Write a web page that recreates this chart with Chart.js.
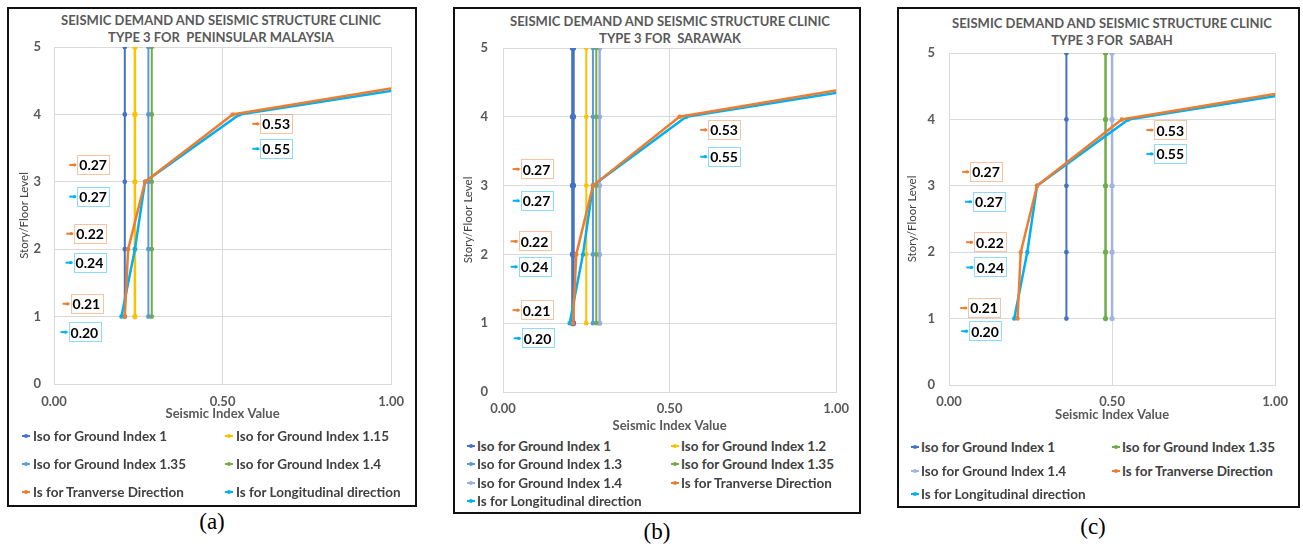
<!DOCTYPE html>
<html>
<head>
<meta charset="utf-8">
<script src="https://cdn.jsdelivr.net/npm/chart.js@4.4.0/dist/chart.umd.min.js"></script>
<style>
body{margin:0;width:1303px;height:548px;background:#fff;position:relative;overflow:hidden;font-family:Lato,sans-serif}
.panel{position:absolute;border:2px solid #111;box-sizing:border-box}
canvas{position:absolute}
.ttl{position:absolute;width:400px;text-align:center;font-weight:bold;color:#595959;font-size:13px;line-height:17px;white-space:pre}
.leg{position:absolute;font-weight:bold;color:#404040;font-size:13.5px;white-space:nowrap;line-height:14px}
.leg i{position:absolute;top:6px;width:8px;height:2px}
.leg b{position:absolute;top:5px;width:4px;height:4px;border-radius:2px}
.cap{position:absolute;font-family:'Liberation Serif',serif;font-size:23px;width:60px;text-align:center}
</style>
</head>
<body>
<div class="panel" style="left:7px;top:7px;width:410px;height:500px"></div>
<div class="panel" style="left:453px;top:7px;width:408px;height:507px"></div>
<div class="panel" style="left:897px;top:7px;width:403px;height:501px"></div>

<div class="ttl" style="left:21px;top:12px">SEISMIC DEMAND AND SEISMIC STRUCTURE CLINIC
TYPE 3 FOR  PENINSULAR MALAYSIA</div>
<div class="ttl" style="left:470px;top:13px">SEISMIC DEMAND AND SEISMIC STRUCTURE CLINIC
TYPE 3 FOR  SARAWAK</div>
<div class="ttl" style="left:912px;top:15px">SEISMIC DEMAND AND SEISMIC STRUCTURE CLINIC
TYPE 3 FOR  SABAH</div>

<canvas id="chartA" width="405" height="420" style="left:9px;top:9px"></canvas>
<canvas id="chartB" width="403" height="428" style="left:455px;top:9px"></canvas>
<canvas id="chartC" width="398" height="425" style="left:899px;top:9px"></canvas>

<div id="legA"></div><div id="legB"></div><div id="legC"></div>

<div class="cap" style="left:182px;top:509px">(a)</div>
<div class="cap" style="left:627px;top:519px">(b)</div>
<div class="cap" style="left:1063px;top:514px">(c)</div>

<script>
// story levels and seismic index values
const levels = [1, 2, 3, 4, 5];
const isTransverse = [0.21, 0.22, 0.27, 0.53, 1.75];
const isLongitudinal = [0.20, 0.24, 0.27, 0.55, 1.84];
const xTicks = [0, 0.5, 1];
const yTicks = [0, 1, 2, 3, 4, 5];

// Iso (seismic demand) per region
const isoNamesA = ['Iso for Ground Index 1', 'Iso for Ground Index 1.15', 'Iso for Ground Index 1.35', 'Iso for Ground Index 1.4'];
const isoValuesA = [0.21, 0.24, 0.28, 0.29];
const isoNamesB = ['Iso for Ground Index 1', 'Iso for Ground Index 1.2', 'Iso for Ground Index 1.3', 'Iso for Ground Index 1.35', 'Iso for Ground Index 1.4'];
const isoValuesB = [0.21, 0.25, 0.27, 0.28, 0.29];
const isoNamesC = ['Iso for Ground Index 1', 'Iso for Ground Index 1.35', 'Iso for Ground Index 1.4'];
const isoValuesC = [0.36, 0.48, 0.50];

const ORANGE = '#ED7D31', CYAN = '#00B0F0';
Chart.defaults.font.family = 'Lato';

// data label plugin: value of each Is point, shown at a dragged position
const isLabels = {
    id: 'isLabels',
    afterDatasetsDraw(chart, args, opts) {
        const ctx = chart.ctx, x = chart.scales.x, y = chart.scales.y;
        opts.items.forEach(item => {
            const ds = chart.data.datasets[item.ds];
            item.pos.forEach((p, i) => {
                const px = x.getPixelForValue(p[0]), py = y.getPixelForValue(p[1]);
                const txt = ds.data[i].x.toFixed(2);
                ctx.save();
                ctx.font = 'bold 14px Lato';
                const w = ctx.measureText(txt).width;
                ctx.globalAlpha = 0.45;
                ctx.strokeStyle = ds.borderColor;
                ctx.lineWidth = 1;
                ctx.strokeRect(Math.round(px - 2) + 0.5, Math.round(py - 10) + 0.5, Math.round(w + 4), 19);
                ctx.globalAlpha = 1;
                ctx.lineWidth = 2;
                ctx.beginPath();
                ctx.moveTo(px - 10, py);
                ctx.lineTo(px - 3, py);
                ctx.stroke();
                ctx.fillStyle = ds.borderColor;
                ctx.beginPath();
                ctx.arc(px - 5, py, 1.6, 0, Math.PI * 2);
                ctx.fill();
                ctx.fillStyle = '#000';
                ctx.textBaseline = 'middle';
                ctx.fillText(txt, px, py + 1);
                ctx.restore();
            });
        });
    }
};

function makeChart(id, geo, isoNames, isoValues, isoColors, isoWidths, labelPos) {
    const datasets = isoNames.map((n, i) => ({
        label: n,
        data: levels.map(l => ({x: isoValues[i], y: l})),
        borderColor: isoColors[i],
        backgroundColor: isoColors[i],
        borderWidth: isoWidths[i],
        pointRadius: 1.4,
        order: 1
    }));
    datasets.push({
        label: 'Is for Tranverse Direction',
        data: levels.map((l, i) => ({x: isTransverse[i], y: l})),
        borderColor: ORANGE, backgroundColor: ORANGE,
        borderWidth: 2.5, pointRadius: 1, order: 0
    });
    datasets.push({
        label: 'Is for Longitudinal direction',
        data: levels.map((l, i) => ({x: isLongitudinal[i], y: l})),
        borderColor: CYAN, backgroundColor: CYAN,
        borderWidth: 2.5, pointRadius: 1, order: 0
    });
    const n = datasets.length;
    const c = geo.canvas, p = geo.plot;
    return new Chart(document.getElementById(id), {
        type: 'scatter',
        data: {datasets: datasets},
        options: {
            responsive: false,
            animation: false,
            showLine: true,
            layout: {padding: {
                left: p.l - c.l - geo.yW,
                top: p.t - c.t,
                right: c.l + c.w - p.r,
                bottom: c.t + c.h - p.b - geo.xH
            }},
            scales: {
                x: {
                    min: 0, max: 1,
                    afterBuildTicks: s => { s.ticks = xTicks.map(v => ({value: v})); },
                    afterFit: s => { s.height = geo.xH; },
                    grid: {color: '#D9D9D9', drawTicks: false},
                    border: {color: '#D9D9D9'},
                    ticks: {padding: geo.xPad, color: '#595959', font: {size: 13, weight: 'bold'},
                        callback: v => v.toFixed(2), maxRotation: 0},
                    title: {display: true, text: 'Seismic Index Value', color: '#595959',
                        font: {size: 13, weight: 'bold'}, padding: 0}
                },
                y: {
                    min: 0, max: 5,
                    afterBuildTicks: s => { s.ticks = yTicks.map(v => ({value: v})); },
                    afterFit: s => { s.width = geo.yW; },
                    grid: {color: '#D9D9D9', drawTicks: false},
                    border: {color: '#D9D9D9'},
                    ticks: {padding: geo.yPad, color: '#595959', font: {size: 13, weight: 'bold'}},
                    title: {display: true, text: 'Story/Floor Level', color: '#404040',
                        font: {size: 11.5}, padding: 0}
                }
            },
            plugins: {
                legend: {display: false},
                tooltip: {enabled: false},
                isLabels: {items: [{ds: n - 2, pos: labelPos.tr}, {ds: n - 1, pos: labelPos.lo}]}
            }
        },
        plugins: [isLabels]
    });
}

function buildLegend(chart, id, lg) {
    const el = document.getElementById(id);
    chart.data.datasets.forEach((ds, i) => {
        const row = Math.floor(i / 2), col = i % 2;
        const d = document.createElement('div');
        d.className = 'leg';
        d.style.left = lg.cols[col] + 'px';
        d.style.top = (lg.rows[row] - 7) + 'px';
        d.innerHTML = '<i style="left:0;background:' + ds.borderColor + '"></i><b style="left:2px;background:' + ds.borderColor + '"></b>' +
            '<span style="margin-left:' + lg.gap + 'px">' + ds.label + '</span>';
        el.appendChild(d);
    });
}

const chartA = makeChart('chartA',
    {canvas: {l: 9, t: 9, w: 405, h: 420}, plot: {l: 54, t: 47, r: 400, b: 384}, yW: 37, xH: 38, yPad: 13, xPad: 10},
    isoNamesA, isoValuesA, ['#4472C4', '#FFC000', '#5B9BD5', '#70AD47'], [2, 2.5, 2, 2],
    {tr: [[0.055, 1.19], [0.066, 2.23], [0.075, 3.25], [0.618, 3.86]],
     lo: [[0.049, 0.77], [0.064, 1.80], [0.075, 2.78], [0.618, 3.49]]});
buildLegend(chartA, 'legA', {cols: [22, 225], rows: [436, 464, 492], gap: 11});

const chartB = makeChart('chartB',
    {canvas: {l: 455, t: 9, w: 403, h: 428}, plot: {l: 503, t: 48, r: 844, b: 392}, yW: 42, xH: 42, yPad: 15, xPad: 9},
    isoNamesB, isoValuesB, ['#4472C4', '#FFC000', '#5B9BD5', '#70AD47', '#9BAEE0'], [3.5, 2, 2, 2, 2.5],
    {tr: [[0.059, 1.19], [0.053, 2.19], [0.059, 3.24], [0.622, 3.81]],
     lo: [[0.062, 0.78], [0.053, 1.82], [0.059, 2.78], [0.622, 3.42]]});
buildLegend(chartB, 'legB', {cols: [467, 671], rows: [446, 464, 483, 501], gap: 10});

const chartC = makeChart('chartC',
    {canvas: {l: 899, t: 9, w: 398, h: 425}, plot: {l: 949, t: 53, r: 1281, b: 385}, yW: 44, xH: 38, yPad: 14, xPad: 9},
    isoNamesC, isoValuesC, ['#4472C4', '#70AD47', '#A2B4E0'], [2, 2.5, 2.5],
    {tr: [[0.065, 1.16], [0.083, 2.15], [0.071, 3.21], [0.636, 3.84]],
     lo: [[0.068, 0.81], [0.084, 1.77], [0.080, 2.76], [0.636, 3.48]]});
buildLegend(chartC, 'legC', {cols: [911, 1112], rows: [447, 471, 494], gap: 10});
</script>
</body>
</html>
